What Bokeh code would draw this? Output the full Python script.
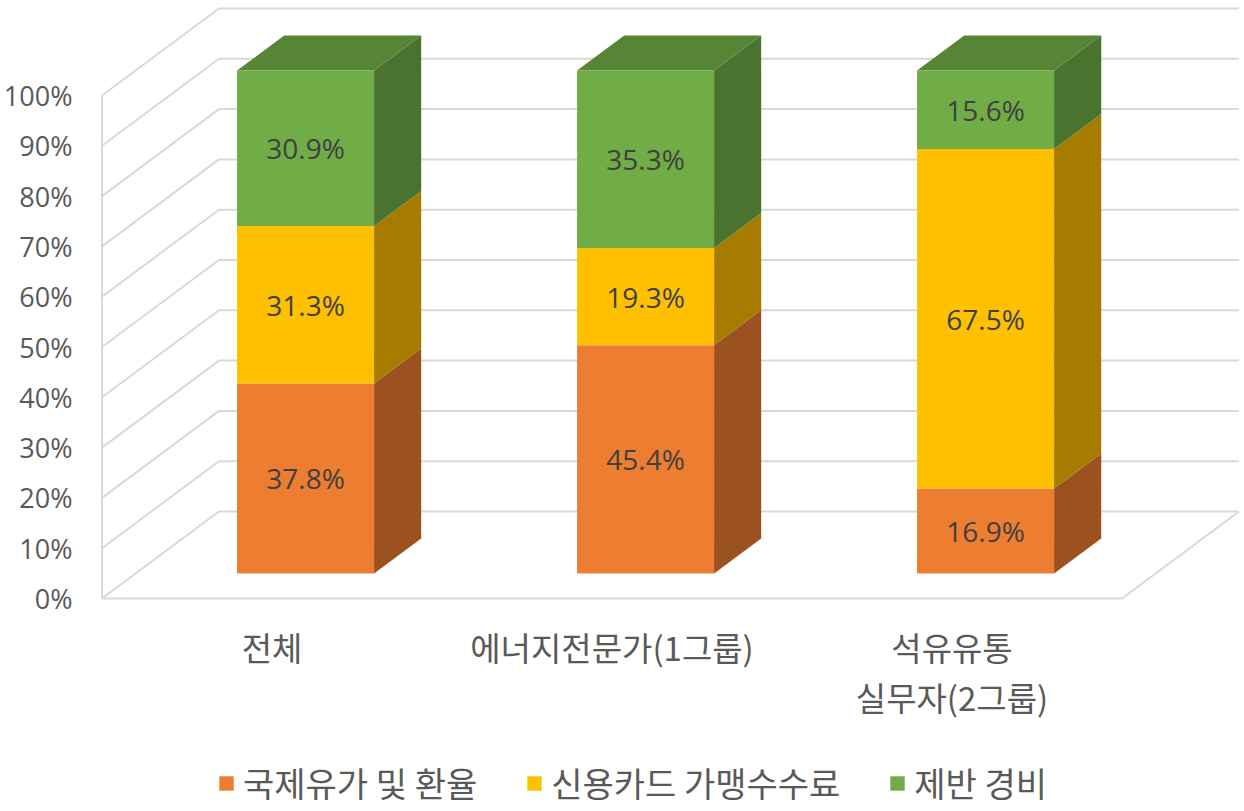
from bokeh.plotting import figure
from bokeh.models import Range1d, Legend, LegendItem
from bokeh.core.properties import value
from bokeh.embed import file_html
from bokeh.resources import INLINE

# data
categories = ["전체", "에너지전문가(1그룹)", "석유유통\n실무자(2그룹)"]
series = ["국제유가 및 환율", "신용카드 가맹수수료", "제반 경비"]
oil_fx = [37.8, 45.4, 16.9]
card_fee = [31.3, 19.3, 67.5]
misc_cost = [30.9, 35.3, 15.6]
y_ticks = [0, 10, 20, 30, 40, 50, 60, 70, 80, 90, 100]

front_colors = ["#ED7D31", "#FFC000", "#70AD47"]
side_colors = ["#9C5220", "#A67C00", "#4A7330"]
top_colors = ["#A85A24", "#B38600", "#568536"]

# fake 3d: depth offsets in data units
DX = 0.344    # x shift for full depth
DY = 17.3     # y shift (percent) for full depth
D0, D1 = 0.287, 0.69   # bar front / back depth
HALF = 0.2015

KO = "Noto Sans CJK KR"
NUM = "Open Sans"

p = figure(width=1240, height=808, output_backend="svg", toolbar_location=None,
           x_range=Range1d(-0.7985, 2.8485), y_range=Range1d(-41.75, 118.89),
           min_border=0, min_border_left=0, min_border_right=0,
           min_border_top=0, min_border_bottom=0)
p.axis.visible = False
p.grid.visible = False
p.outline_line_color = None
p.background_fill_color = "white"

# walls / gridlines
xl, xr = -0.5, 2.5
grid_xs, grid_ys = [], []
for t in y_ticks:
    grid_xs.append([xl, xl + DX, xr + DX])
    grid_ys.append([t, t + DY, t + DY])
grid_xs.append([xl, xl])
grid_ys.append([0, 100])
grid_xs.append([xl, xr, xr + DX])
grid_ys.append([0, 0, DY])
p.multi_line(grid_xs, grid_ys, line_color="#D9D9D9", line_width=2)

# stacked 3d bars
stacks = [oil_fx, card_fee, misc_cost]
bottoms = [0.0] * len(categories)
fronts = []
lab_x, lab_y, lab_t = [], [], []
for s, vals in enumerate(stacks):
    fx, fy, sx, sy, tx, ty = [], [], [], [], [], []
    for i, v in enumerate(vals):
        b = bottoms[i]
        t = b + v
        x0l = i + D0 * DX - HALF
        x0r = i + D0 * DX + HALF
        x1l = i + D1 * DX - HALF
        x1r = i + D1 * DX + HALF
        fx.append([x0l, x0r, x0r, x0l])
        fy.append([b + D0 * DY, b + D0 * DY, t + D0 * DY, t + D0 * DY])
        sx.append([x0r, x1r, x1r, x0r])
        sy.append([b + D0 * DY, b + D1 * DY, t + D1 * DY, t + D0 * DY])
        if s == len(stacks) - 1:
            tx.append([x0l, x0r, x1r, x1l])
            ty.append([t + D0 * DY, t + D0 * DY, t + D1 * DY, t + D1 * DY])
        lab_x.append(i + D0 * DX)
        lab_y.append((b + t) / 2 + D0 * DY)
        lab_t.append(f"{v:.1f}%")
        bottoms[i] = t
    p.patches(sx, sy, fill_color=side_colors[s], line_color=None)
    if tx:
        p.patches(tx, ty, fill_color=top_colors[s], line_color=None)
    r = p.patches(fx, fy, fill_color=front_colors[s], line_color=None)
    fronts.append(r)

p.text(lab_x, lab_y, text=lab_t, text_align="center", text_baseline="middle",
       text_font=value(NUM), text_font_size="28px", text_color="#404040")

# y tick labels on the front of the left wall
p.text([-0.5868] * len(y_ticks), y_ticks, text=[f"{t}%" for t in y_ticks],
       text_align="right", text_baseline="middle",
       text_font=value(NUM), text_font_size="27px", text_color="#595959")

# category labels
p.text(list(range(len(categories))), [-4.9] * len(categories), text=categories,
       text_align="center", text_baseline="top", text_line_height=1.04,
       text_font=value(KO), text_font_size="33px", text_color="#595959")

legend = Legend(items=[LegendItem(label=series[k], renderers=[fronts[k]]) for k in range(3)],
                orientation="horizontal", location=(217, 1),
                padding=0, margin=0, spacing=48, label_standoff=8,
                glyph_width=18, glyph_height=18,
                label_text_font=KO, label_text_font_size="34px",
                label_text_color="#595959", border_line_color=None,
                background_fill_alpha=0)
p.add_layout(legend)

open("out.html", "w").write(file_html(p, INLINE))
